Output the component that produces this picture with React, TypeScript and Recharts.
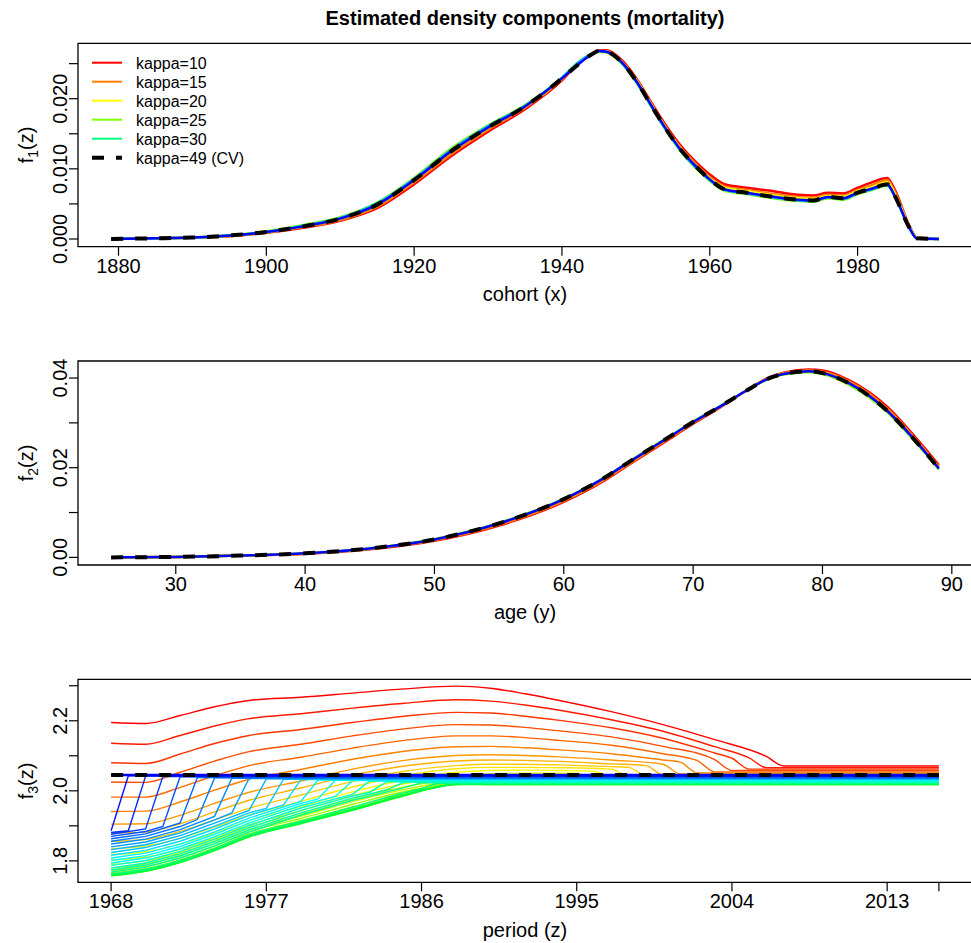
import React from 'react';
import { LineChart, Line, XAxis, YAxis, ReferenceArea } from 'recharts';

const FONT = '"Liberation Sans", Arial, Helvetica, sans-serif';

// ---------- Panel 1: cohort ----------
const cohortYears = [1879,1885,1890,1895,1900,1905,1910,1915,1920,1925,1930,1935,1940,1942,1944,1945,1946,1948,1950,1952,1954,1956,1958,1960,1962,1965,1968,1972,1974,1976,1978,1980,1982,1984,1985,1987,1988,1991];
const f1k10 = [0,0.0001,0.0002,0.0004,0.0009,0.0016,0.0026,0.0044,0.0078,0.0118,0.0153,0.0185,0.0226,0.0248,0.0264,0.0269,0.0269,0.0256,0.0230,0.0196,0.0163,0.0134,0.0111,0.0092,0.0078,0.0073,0.0069,0.0063,0.0062,0.0066,0.0065,0.0073,0.0081,0.0087,0.0071,0.0019,0.0002,0];
const f1k15 = [0,0.0001,0.0002,0.0004,0.0009,0.0017,0.0027,0.0046,0.0081,0.0121,0.0156,0.0187,0.0228,0.0249,0.0264,0.0268,0.0268,0.0254,0.0228,0.0194,0.0160,0.0131,0.0108,0.0088,0.0075,0.0070,0.0065,0.0060,0.0059,0.0063,0.0062,0.0070,0.0077,0.0084,0.0068,0.0018,0.0002,0];
const f1k20 = [0,0.0001,0.0002,0.0005,0.0010,0.0018,0.0029,0.0049,0.0084,0.0125,0.0159,0.0189,0.0229,0.0250,0.0264,0.0268,0.0267,0.0253,0.0227,0.0193,0.0159,0.0129,0.0105,0.0086,0.0073,0.0068,0.0063,0.0058,0.0057,0.0061,0.0060,0.0068,0.0074,0.0081,0.0065,0.0017,0.0001,0];
const f1k25 = [0,0.0001,0.0002,0.0005,0.0011,0.0020,0.0031,0.0052,0.0087,0.0129,0.0162,0.0191,0.0230,0.0250,0.0264,0.0267,0.0266,0.0251,0.0224,0.0190,0.0156,0.0126,0.0102,0.0083,0.0069,0.0064,0.0059,0.0054,0.0053,0.0058,0.0056,0.0064,0.0070,0.0076,0.0061,0.0016,0.0001,0];
const f1k40 = [0,0.0001,0.0002,0.0005,0.0010,0.0019,0.0030,0.0051,0.0086,0.0127,0.0161,0.0190,0.0230,0.0250,0.0264,0.0268,0.0267,0.0252,0.0225,0.0191,0.0157,0.0127,0.0103,0.0084,0.0070,0.0065,0.0060,0.0055,0.0054,0.0059,0.0057,0.0065,0.0071,0.0077,0.0062,0.0016,0.0001,0];
const f1k49 = [0,0.0001,0.0002,0.0005,0.0010,0.0018,0.0029,0.0049,0.0084,0.0125,0.0159,0.0189,0.0229,0.0247,0.0263,0.0268,0.0267,0.0253,0.0226,0.0192,0.0158,0.0128,0.0105,0.0085,0.0071,0.0066,0.0061,0.0056,0.0055,0.0060,0.0058,0.0066,0.0072,0.0078,0.0062,0.0016,0.0001,0];
const cohortTicks = [1880,1900,1920,1940,1960,1980];
const f1Ticks = [0,0.005,0.01,0.015,0.02,0.025];
const f1Labels = ['0.000','','0.010','','0.020',''];

// ---------- Panel 2: age ----------
const ages = [25,30,35,40,45,50,55,60,63,65,68,70,72,74,76,77,79,80,82,85,87,89];
const f2k10 = [0,0.0001,0.0004,0.0008,0.0018,0.0037,0.0071,0.0124,0.0169,0.0206,0.0261,0.0298,0.0333,0.0370,0.0403,0.0412,0.0419,0.0417,0.0396,0.0336,0.0274,0.0206];
const f2k15 = [0,0.0001,0.0004,0.0008,0.0019,0.0038,0.0073,0.0126,0.0171,0.0208,0.0263,0.0300,0.0334,0.0370,0.0402,0.0411,0.0417,0.0414,0.0393,0.0332,0.0270,0.0202];
const f2k25 = [0,0.0001,0.0004,0.0009,0.0020,0.0041,0.0077,0.0131,0.0176,0.0213,0.0267,0.0303,0.0336,0.0370,0.0400,0.0408,0.0413,0.0409,0.0386,0.0324,0.0263,0.0196];
const f2k49 = [0,0.0001,0.0004,0.0009,0.0020,0.0040,0.0076,0.0130,0.0175,0.0212,0.0266,0.0302,0.0335,0.0370,0.0401,0.0409,0.0415,0.0411,0.0389,0.0327,0.0266,0.0198];
const ageTicks = [30,40,50,60,70,80,90];
const f2Ticks = [0,0.01,0.02,0.03,0.04];
const f2Labels = ['0.00','','0.02','','0.04'];

// ---------- Panel 3: period (one line per kappa, [year, value]) ----------
const p3k10 = [[1968,2.195],[1970,2.192],[1972,2.215],[1974,2.240],[1976,2.258],[1979,2.267],[1982,2.279],[1985,2.291],[1988,2.299],[1990,2.293],[1992,2.277],[1994,2.258],[1997,2.226],[2000,2.189],[2003,2.146],[2006,2.098],[2007,2.071],[2016,2.071]];
const p3k11 = [[1968,2.136],[1970,2.133],[1972,2.158],[1974,2.185],[1976,2.206],[1979,2.220],[1982,2.236],[1985,2.250],[1988,2.260],[1990,2.256],[1992,2.245],[1994,2.230],[1997,2.203],[2000,2.170],[2003,2.126],[2005,2.094],[2006,2.066],[2016,2.066]];
const p3k12 = [[1968,2.080],[1970,2.078],[1972,2.105],[1974,2.135],[1976,2.158],[1979,2.175],[1982,2.195],[1985,2.213],[1988,2.224],[1990,2.222],[1992,2.213],[1994,2.201],[1997,2.180],[2000,2.150],[2003,2.108],[2004,2.093],[2005,2.062],[2016,2.062]];
const p3k13 = [[1968,2.025],[1970,2.024],[1972,2.053],[1974,2.085],[1976,2.112],[1979,2.133],[1982,2.157],[1985,2.177],[1988,2.189],[1990,2.188],[1992,2.181],[1994,2.171],[1997,2.154],[2000,2.127],[2003,2.089],[2004,2.058],[2016,2.058]];
const p3k14 = [[1968,1.982],[1970,1.982],[1972,2.010],[1974,2.043],[1976,2.072],[1979,2.096],[1982,2.122],[1985,2.144],[1988,2.157],[1990,2.157],[1992,2.152],[1994,2.144],[1997,2.130],[2000,2.106],[2002,2.086],[2003,2.054],[2016,2.054]];
const p3k15 = [[1968,1.941],[1970,1.942],[1972,1.968],[1974,2.002],[1976,2.033],[1979,2.061],[1982,2.090],[1985,2.113],[1988,2.126],[1990,2.127],[1992,2.123],[1994,2.117],[1997,2.106],[2000,2.088],[2001,2.082],[2002,2.051],[2016,2.051]];
const p3k16 = [[1968,1.905],[1970,1.906],[1972,1.930],[1974,1.964],[1976,1.996],[1979,2.028],[1982,2.062],[1985,2.087],[1988,2.101],[1990,2.103],[1992,2.101],[1994,2.097],[1997,2.088],[2000,2.076],[2001,2.048],[2016,2.048]];
const p3k17 = [[1968,1.879],[1970,1.882],[1972,1.906],[1974,1.940],[1976,1.973],[1979,2.008],[1982,2.045],[1985,2.071],[1988,2.085],[1990,2.088],[1992,2.087],[1994,2.084],[1997,2.077],[1999,2.072],[2000,2.046],[2016,2.046]];
const p3k18 = [[1968,1.856],[1970,1.861],[1972,1.884],[1974,1.917],[1976,1.950],[1979,1.988],[1982,2.027],[1985,2.056],[1988,2.072],[1990,2.076],[1992,2.076],[1994,2.074],[1997,2.069],[1998,2.067],[1999,2.044],[2016,2.044]];
const p3k19 = [[1968,1.835],[1970,1.842],[1972,1.864],[1974,1.897],[1976,1.930],[1979,1.970],[1982,2.011],[1985,2.043],[1988,2.063],[1990,2.067],[1992,2.067],[1994,2.066],[1997,2.062],[1998,2.042],[2016,2.042]];
const p3k20 = [[1968,1.818],[1970,1.826],[1972,1.848],[1974,1.880],[1976,1.915],[1979,1.955],[1982,1.997],[1985,2.031],[1988,2.053],[1990,2.058],[1992,2.059],[1994,2.058],[1996,2.056],[1997,2.040],[2016,2.040]];
const p3k21 = [[1968,1.803],[1970,1.811],[1972,1.833],[1974,1.866],[1976,1.903],[1979,1.943],[1982,1.986],[1985,2.020],[1988,2.043],[1990,2.049],[1992,2.050],[1995,2.050],[1996,2.037],[2016,2.037]];
const p3k22 = [[1968,1.790],[1970,1.800],[1972,1.824],[1974,1.858],[1976,1.896],[1979,1.935],[1982,1.977],[1985,2.011],[1988,2.035],[1990,2.041],[1992,2.043],[1994,2.043],[1995,2.034],[2016,2.034]];
const p3k23 = [[1968,1.780],[1970,1.791],[1972,1.816],[1974,1.850],[1976,1.889],[1979,1.928],[1982,1.969],[1985,2.004],[1988,2.028],[1990,2.034],[1992,2.036],[1993,2.036],[1994,2.030],[2016,2.030]];
const p3k24 = [[1968,1.772],[1970,1.784],[1972,1.809],[1974,1.843],[1976,1.883],[1979,1.921],[1982,1.961],[1985,1.998],[1988,2.023],[1990,2.028],[1992,2.029],[1993,2.026],[2016,2.026]];
const p3k25 = [[1968,1.766],[1970,1.778],[1972,1.803],[1974,1.837],[1976,1.877],[1979,1.915],[1982,1.954],[1985,1.992],[1988,2.020],[1990,2.023],[1991,2.023],[1992,2.021],[2016,2.021]];
const p3k26 = [[1968,1.761],[1970,1.774],[1972,1.799],[1974,1.833],[1976,1.873],[1979,1.911],[1982,1.949],[1985,1.989],[1988,2.019],[1990,2.021],[1991,2.019],[2016,2.019]];
const p3k27 = [[1968,1.758],[1970,1.771],[1972,1.796],[1974,1.830],[1976,1.870],[1979,1.908],[1982,1.946],[1985,1.987],[1988,2.018],[1989,2.019],[1990,2.018],[2016,2.018]];
const p3k28 = [[1968,1.757],[1970,1.770],[1972,1.795],[1974,1.829],[1976,1.868],[1979,1.906],[1982,1.944],[1985,1.986],[1988,2.018],[1989,2.018],[2016,2.018]];
const p3k29 = [[1968,1.759],[1970,1.772],[1972,1.797],[1974,1.831],[1976,1.870],[1979,1.908],[1982,1.947],[1985,1.989],[1987,2.011],[1988,2.019],[2016,2.019]];
const p3k30 = [[1968,1.763],[1970,1.776],[1972,1.801],[1974,1.835],[1976,1.874],[1979,1.913],[1982,1.953],[1985,1.995],[1986,2.006],[1987,2.021],[2016,2.021]];
const p3k31 = [[1968,1.768],[1970,1.782],[1972,1.808],[1974,1.843],[1976,1.882],[1979,1.931],[1982,1.973],[1985,2.009],[1986,2.023],[2016,2.023]];
const p3k32 = [[1968,1.774],[1970,1.788],[1972,1.814],[1974,1.849],[1976,1.888],[1979,1.937],[1982,1.979],[1984,2.003],[1985,2.025],[2016,2.025]];
const p3k33 = [[1968,1.780],[1970,1.794],[1972,1.820],[1974,1.855],[1976,1.894],[1979,1.944],[1982,1.985],[1983,1.996],[1984,2.026],[2016,2.026]];
const p3k34 = [[1968,1.787],[1970,1.801],[1972,1.827],[1974,1.862],[1976,1.901],[1979,1.951],[1982,1.990],[1983,2.028],[2016,2.028]];
const p3k35 = [[1968,1.794],[1970,1.808],[1972,1.834],[1974,1.869],[1976,1.908],[1979,1.958],[1981,1.984],[1982,2.029],[2016,2.029]];
const p3k36 = [[1968,1.801],[1970,1.815],[1972,1.841],[1974,1.876],[1976,1.915],[1979,1.964],[1980,1.977],[1981,2.030],[2016,2.030]];
const p3k37 = [[1968,1.808],[1970,1.822],[1972,1.848],[1974,1.883],[1976,1.922],[1979,1.970],[1980,2.031],[2016,2.031]];
const p3k38 = [[1968,1.816],[1970,1.830],[1972,1.856],[1974,1.891],[1976,1.930],[1978,1.960],[1979,2.032],[2016,2.032]];
const p3k39 = [[1968,1.824],[1970,1.838],[1972,1.864],[1974,1.899],[1976,1.937],[1977,1.950],[1978,2.033],[2016,2.033]];
const p3k40 = [[1968,1.832],[1970,1.846],[1972,1.872],[1974,1.908],[1976,1.944],[1977,2.034],[2016,2.034]];
const p3k41 = [[1968,1.840],[1970,1.854],[1972,1.880],[1974,1.917],[1975,1.937],[1976,2.035],[2016,2.035]];
const p3k42 = [[1968,1.848],[1970,1.862],[1972,1.889],[1974,1.927],[1975,2.036],[2016,2.036]];
const p3k43 = [[1968,1.856],[1970,1.870],[1972,1.898],[1973,1.918],[1974,2.037],[2016,2.037]];
const p3k44 = [[1968,1.863],[1970,1.877],[1972,1.908],[1973,2.038],[2016,2.038]];
const p3k45 = [[1968,1.870],[1970,1.884],[1971,1.898],[1972,2.040],[2016,2.040]];
const p3k46 = [[1968,1.876],[1970,1.891],[1971,2.041],[2016,2.041]];
const p3k47 = [[1968,1.881],[1969,1.886],[1970,2.042],[2016,2.042]];
const p3k48 = [[1968,1.886],[1969,2.043],[2016,2.043]];
const p3k49 = [[1968,2.045],[2016,2.045]];
const p3CV = [[1968,2.045],[2016,2.045]];
const p3Kappas = [10,11,12,13,14,15,16,17,18,19,20,21,22,23,24,25,26,27,28,29,30,31,32,33,34,35,36,37,38,39,40,41,42,43,44,45,46,47,48,49];
const p3Lines = [p3k10,p3k11,p3k12,p3k13,p3k14,p3k15,p3k16,p3k17,p3k18,p3k19,p3k20,p3k21,p3k22,p3k23,p3k24,p3k25,p3k26,p3k27,p3k28,p3k29,p3k30,p3k31,p3k32,p3k33,p3k34,p3k35,p3k36,p3k37,p3k38,p3k39,p3k40,p3k41,p3k42,p3k43,p3k44,p3k45,p3k46,p3k47,p3k48,p3k49];
const periodTicks = [1968,1977,1986,1995,2004,2013,2016];
const periodLabels = ['1968','1977','1986','1995','2004','2013',''];
const f3Ticks = [1.8,1.9,2.0,2.1,2.2,2.3];
const f3Labels = ['1.8','','2.0','','2.2',''];

const legendKappas = ['kappa=10','kappa=15','kappa=20','kappa=25','kappa=30'];
const legendK = [10,15,20,25,30];

// colour ramp red -> yellow -> green -> cyan -> blue along kappa
const kHue = (k: number) => (k <= 25 ? (k - 10) * 6 : k <= 30 ? 90 + (k - 25) * 12 : 150 + ((k - 30) * 90) / 19);
const kColor = (k: number) => `hsl(${kHue(k)}, 100%, 50%)`;

const data1 = cohortYears.map((x, i) => ({ x, k10: f1k10[i], k15: f1k15[i], k20: f1k20[i], k25: f1k25[i], k40: f1k40[i], k49: f1k49[i] }));
const data2 = ages.map((x, i) => ({ x, k10: f2k10[i], k15: f2k15[i], k25: f2k25[i], k49: f2k49[i] }));
const toXY = (arr: number[][]) => arr.map(([x, y]) => ({ x, y }));

const LAB = 20;

const makeXTick = (ticks: number[], labels: string[] | null) => (props: any) => {
  const { x, y, payload } = props;
  const idx = ticks.indexOf(payload.value);
  const label = labels ? labels[idx] : String(payload.value);
  if (!label) return <g />;
  return (
    <text x={x} y={y + 17} textAnchor="middle" fontSize={LAB} fontFamily={FONT} fill="#000">{label}</text>
  );
};
const makeYTick = (ticks: number[], labels: string[]) => (props: any) => {
  const { x, y, payload } = props;
  let idx = -1;
  ticks.forEach((t, i) => { if (Math.abs(t - payload.value) < 1e-9) idx = i; });
  const label = idx >= 0 ? labels[idx] : '';
  if (!label) return <g />;
  return (
    <text transform={`translate(${x - 2},${y}) rotate(-90)`} textAnchor="middle" fontSize={LAB} fontFamily={FONT} fill="#000">{label}</text>
  );
};

const tickLine = { stroke: '#000', strokeWidth: 1.2 };

const Box = ({ xd, yd }: { xd: number[]; yd: number[] }) => (
  <ReferenceArea x1={xd[0]} x2={xd[1]} y1={yd[0]} y2={yd[1]} fill="none" fillOpacity={0} stroke="#000" strokeWidth={1.3} ifOverflow="visible" />
);

const X1 = [1874.52, 1995.48];
const Y1 = [-0.0011, 0.0279];
const X2 = [22.44, 91.56];
const Y2 = [-0.0017, 0.0438];
const X3 = [1966.08, 2017.92];
const Y3 = [1.7388, 2.3184];

export default function App() {
  return (
    <div style={{ position: 'absolute', left: 0, top: 0, width: 971, height: 943, overflow: 'hidden', background: '#fff', fontFamily: FONT }}>
      <div style={{ position: 'absolute', left: 0, top: 0 }}>
        <LineChart width={980} height={320} data={data1} margin={{ top: 43.3, right: 8, bottom: 0, left: 8 }}>
          <XAxis dataKey="x" type="number" domain={X1} allowDataOverflow ticks={cohortTicks} interval={0} height={73.3} tickSize={9} tickMargin={0} axisLine={false} tickLine={tickLine} tick={makeXTick(cohortTicks, null)} />
          <YAxis type="number" domain={Y1} allowDataOverflow ticks={f1Ticks} interval={0} width={70} tickSize={9} tickMargin={0} axisLine={false} tickLine={tickLine} tick={makeYTick(f1Ticks, f1Labels)} />
          <Box xd={X1} yd={Y1} />
          <Line type="monotone" dataKey="k10" stroke={kColor(10)} strokeWidth={2.5} dot={false} isAnimationActive={false} />
          <Line type="monotone" dataKey="k15" stroke={kColor(15)} strokeWidth={2.5} dot={false} isAnimationActive={false} />
          <Line type="monotone" dataKey="k20" stroke={kColor(20)} strokeWidth={2.5} dot={false} isAnimationActive={false} />
          <Line type="monotone" dataKey="k25" stroke={kColor(25)} strokeWidth={2.5} dot={false} isAnimationActive={false} />
          <Line type="monotone" dataKey="k40" stroke={kColor(40)} strokeWidth={2.5} dot={false} isAnimationActive={false} />
          <Line type="monotone" dataKey="k49" stroke={kColor(49)} strokeWidth={2.5} dot={false} isAnimationActive={false} />
          <Line type="monotone" dataKey="k49" stroke="#000" strokeWidth={4} strokeDasharray="12 12" dot={false} isAnimationActive={false} />
        </LineChart>
      </div>
      <div style={{ position: 'absolute', left: 0, top: 320 }}>
        <LineChart width={980} height={320} data={data2} margin={{ top: 41, right: 8, bottom: 0, left: 8 }}>
          <XAxis dataKey="x" type="number" domain={X2} allowDataOverflow ticks={ageTicks} interval={0} height={75} tickSize={9} tickMargin={0} axisLine={false} tickLine={tickLine} tick={makeXTick(ageTicks, null)} />
          <YAxis type="number" domain={Y2} allowDataOverflow ticks={f2Ticks} interval={0} width={70} tickSize={9} tickMargin={0} axisLine={false} tickLine={tickLine} tick={makeYTick(f2Ticks, f2Labels)} />
          <Box xd={X2} yd={Y2} />
          <Line type="monotone" dataKey="k10" stroke={kColor(10)} strokeWidth={2.5} dot={false} isAnimationActive={false} />
          <Line type="monotone" dataKey="k15" stroke={kColor(15)} strokeWidth={2.5} dot={false} isAnimationActive={false} />
          <Line type="monotone" dataKey="k25" stroke={kColor(25)} strokeWidth={2.5} dot={false} isAnimationActive={false} />
          <Line type="monotone" dataKey="k49" stroke={kColor(49)} strokeWidth={2.5} dot={false} isAnimationActive={false} />
          <Line type="monotone" dataKey="k49" stroke="#000" strokeWidth={4} strokeDasharray="12 12" dot={false} isAnimationActive={false} />
        </LineChart>
      </div>
      <div style={{ position: 'absolute', left: 0, top: 640 }}>
        <LineChart width={980} height={303} margin={{ top: 39.3, right: 8, bottom: 0, left: 8 }}>
          <XAxis dataKey="x" type="number" domain={X3} allowDataOverflow ticks={periodTicks} interval={0} height={60.7} tickSize={9} tickMargin={0} axisLine={false} tickLine={tickLine} tick={makeXTick(periodTicks, periodLabels)} />
          <YAxis dataKey="y" type="number" domain={Y3} allowDataOverflow ticks={f3Ticks} interval={0} width={70} tickSize={9} tickMargin={0} axisLine={false} tickLine={tickLine} tick={makeYTick(f3Ticks, f3Labels)} />
          <Box xd={X3} yd={Y3} />
          {p3Lines.map((arr, i) => (
            <Line key={'k' + p3Kappas[i]} data={toXY(arr)} dataKey="y" type={p3Kappas[i] <= 30 ? 'monotone' : 'linear'} stroke={kColor(p3Kappas[i])} strokeWidth={p3Kappas[i] === 49 ? 2.5 : 1.4} dot={false} isAnimationActive={false} />
          ))}
          <Line data={toXY(p3CV)} dataKey="y" type="linear" stroke="#000" strokeWidth={4} strokeDasharray="12 12" dot={false} isAnimationActive={false} />
        </LineChart>
      </div>
      <svg width={971} height={943} style={{ position: 'absolute', left: 0, top: 0, pointerEvents: 'none' }} fontFamily={FONT}>
        <text x={525} y={25} textAnchor="middle" fontSize={20} fontWeight="bold" fill="#000">Estimated density components (mortality)</text>
        <text x={525} y={301} textAnchor="middle" fontSize={LAB} fill="#000">cohort (x)</text>
        <text x={525} y={619} textAnchor="middle" fontSize={LAB} fill="#000">age (y)</text>
        <text x={525} y={937} textAnchor="middle" fontSize={LAB} fill="#000">period (z)</text>
        {[['1', 145], ['2', 463], ['3', 781]].map(([s, cy]) => (
          <text key={s as string} transform={`translate(33,${cy}) rotate(-90)`} textAnchor="middle" fontSize={LAB} fill="#000">
            f<tspan fontSize={14} dy={5}>{s}</tspan><tspan dy={-5}>(z)</tspan>
          </text>
        ))}
        {legendKappas.map((lab, i) => (
          <g key={lab}>
            <line x1={92} x2={122} y1={62.7 + 19 * i} y2={62.7 + 19 * i} stroke={kColor(legendK[i])} strokeWidth={2} />
            <text x={136} y={62.7 + 19 * i + 6} fontSize={16} fill="#000">{lab}</text>
          </g>
        ))}
        <line x1={92} x2={122} y1={157.7} y2={157.7} stroke="#000" strokeWidth={4} strokeDasharray="12 12" />
        <text x={136} y={163.7} fontSize={16} fill="#000">kappa=49 (CV)</text>
      </svg>
    </div>
  );
}
